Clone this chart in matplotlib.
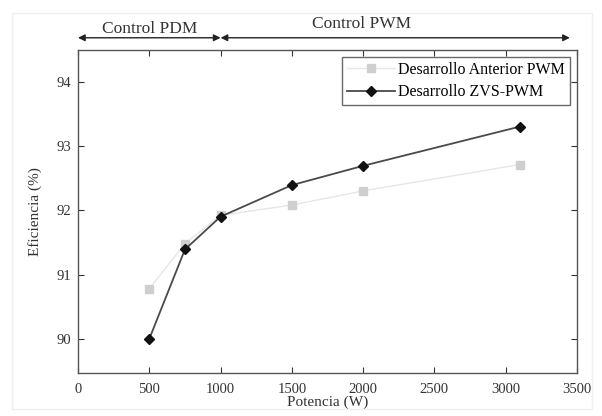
import matplotlib
matplotlib.use("Agg")
import matplotlib.pyplot as plt
from matplotlib.patches import Rectangle

# Data
potencia = [500, 750, 1000, 1500, 2000, 3100]
eff_anterior = [90.78, 91.48, 91.92, 92.08, 92.3, 92.71]
eff_zvs = [90.0, 91.39, 91.9, 92.39, 92.69, 93.3]
xticks = [0, 500, 1000, 1500, 2000, 2500, 3000, 3500]
yticks = [90, 91, 92, 93, 94]

plt.rcParams['font.family'] = ['Liberation Serif', 'DejaVu Serif']

fig = plt.figure(figsize=(6.02, 4.16), dpi=100)
ax = fig.add_axes([78 / 602, 1 - 373 / 416, 499 / 602, 323 / 416])

# faint outer frame
fig.patches.append(Rectangle((12 / 602, 1 - 409 / 416), 580 / 602, 396 / 416,
                             transform=fig.transFigure,
                             fill=False, edgecolor='#efefef', linewidth=1.0))

ax.plot(potencia, eff_anterior, color='#e6e6e6', linewidth=1.0,
        marker='s', markersize=6, markerfacecolor='#cfcfcf', markeredgecolor='#cfcfcf',
        label='Desarrollo Anterior PWM')
ax.plot(potencia, eff_zvs, color='#4a4a4a', linewidth=1.3,
        marker='D', markersize=5.5, markerfacecolor='#111111', markeredgecolor='#111111',
        label='Desarrollo ZVS-PWM')

ax.set_xlim(0, 3500)
ax.set_ylim(89.47, 94.49)
ax.set_xticks(xticks)
ax.set_yticks(yticks)
ax.tick_params(direction='in', length=4, labelsize=10.5, colors='#333333', width=0.8,
               top=True, right=True)
ax.tick_params(axis='x', pad=7)
ax.tick_params(axis='y', pad=5)
for s in ax.spines.values():
    s.set_color('#555555')
    s.set_linewidth(1.0)

ax.set_xlabel('Potencia (W)', fontsize=11, color='#333333', labelpad=0)
ax.set_ylabel('Eficiencia (%)', fontsize=11, color='#333333', labelpad=10)

leg = ax.legend(loc='upper right', fontsize=11.5, frameon=True, fancybox=False,
                handlelength=3, borderaxespad=0.45, borderpad=0.3, labelspacing=0.4,
                handletextpad=0.2)
leg.get_frame().set_edgecolor('#444444')
leg.get_frame().set_linewidth(1.0)

# control region arrows above the axes
arrow_y = 94.68
arrow_kw = dict(arrowstyle='<|-|>', color='#222222', lw=1.0,
                mutation_scale=10, shrinkA=0, shrinkB=0)
ax.annotate('', xy=(0, arrow_y), xytext=(1000, arrow_y), annotation_clip=False,
            arrowprops=arrow_kw)
ax.annotate('', xy=(1000, arrow_y), xytext=(3450, arrow_y), annotation_clip=False,
            arrowprops=arrow_kw)
ax.text(500, 94.75, 'Control PDM', ha='center', va='baseline',
        fontsize=12.5, color='#333333', clip_on=False)
ax.text(1990, 94.83, 'Control PWM', ha='center', va='baseline',
        fontsize=12.5, color='#333333', clip_on=False)

fig.savefig('out.png', dpi=100)
